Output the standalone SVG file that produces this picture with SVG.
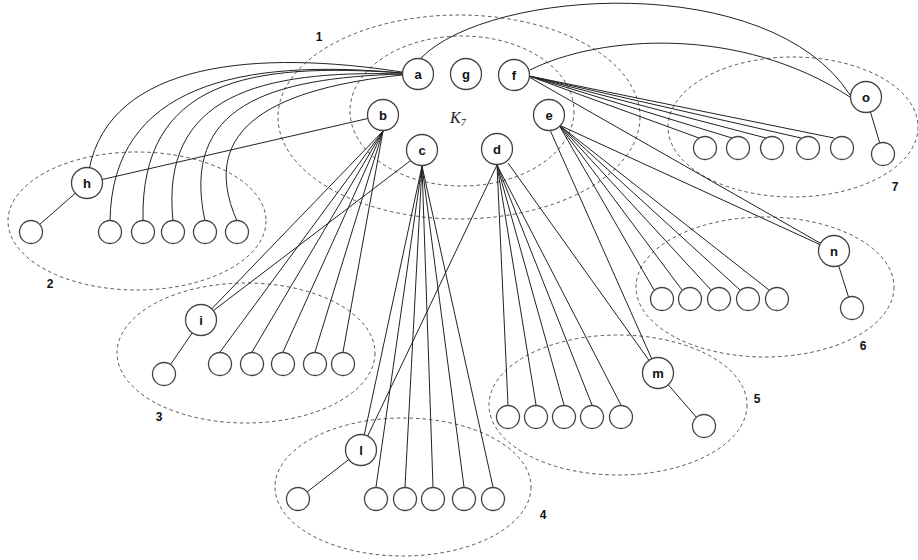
<svg xmlns="http://www.w3.org/2000/svg" width="918" height="560" viewBox="0 0 918 560">
<style>
.cl{fill:none;stroke:#555;stroke-width:1;stroke-dasharray:3.5 3}
.e{fill:none;stroke:#222;stroke-width:1}
.n circle{fill:#fff;stroke:#444;stroke-width:1.3}
.n text{font-family:"Liberation Sans",Arial,sans-serif;font-weight:bold;font-size:13px;text-anchor:middle;fill:#111}
.num{font-family:"Liberation Sans",Arial,sans-serif;font-weight:bold;font-size:12px;text-anchor:middle;fill:#111}
</style>
<rect width="918" height="560" fill="#fff"/>
<g id="clusters">
<ellipse class="cl" cx="459" cy="117" rx="181" ry="102"/>
<ellipse class="cl" cx="462" cy="111" rx="112" ry="75"/>
<ellipse class="cl" cx="137" cy="221" rx="129" ry="69"/>
<ellipse class="cl" cx="246" cy="353" rx="129" ry="70"/>
<ellipse class="cl" cx="403" cy="487" rx="128" ry="69"/>
<ellipse class="cl" cx="618" cy="405" rx="129" ry="70"/>
<ellipse class="cl" cx="765" cy="287" rx="129" ry="70"/>
<ellipse class="cl" cx="793" cy="127" rx="125" ry="70"/>
</g>
<g id="labels">
<text class="num" x="319" y="41">1</text>
<text class="num" x="50" y="288">2</text>
<text class="num" x="159" y="421">3</text>
<text class="num" x="543" y="519">4</text>
<text class="num" x="757" y="403">5</text>
<text class="num" x="863" y="350">6</text>
<text class="num" x="895" y="191">7</text>
<text x="450" y="123" font-family="'Liberation Serif','Times New Roman',serif" font-style="italic" font-size="16" fill="#222">K<tspan font-size="10" dy="3">7</tspan></text>
</g>
<g id="connectors">
<!-- a to cluster 2 -->
<path class="e" d="M402,72 C260,50 110,60 89,170"/>
<path class="e" d="M402,73 C240,58 112,85 110,221"/>
<path class="e" d="M402,73 C250,62 140,80 143,221"/>
<path class="e" d="M402,74 C260,70 160,95 173,221"/>
<path class="e" d="M402,74 C270,78 180,105 205,221"/>
<path class="e" d="M402,75 C280,88 195,125 237,221"/>
<!-- a to o, f to o -->
<path class="e" d="M421,58 C490,-12 770,-30 850,95"/>
<path class="e" d="M530,70 C600,35 740,25 850,97"/>
<!-- b -->
<line class="e" x1="383" y1="115" x2="87" y2="183"/>
<line class="e" x1="383" y1="131" x2="201" y2="320"/>
<line class="e" x1="383" y1="131" x2="220" y2="352"/>
<line class="e" x1="383" y1="131" x2="252" y2="352"/>
<line class="e" x1="383" y1="131" x2="283" y2="352"/>
<line class="e" x1="383" y1="131" x2="315" y2="352"/>
<line class="e" x1="383" y1="131" x2="343" y2="352"/>
<!-- c -->
<line class="e" x1="410" y1="161" x2="201" y2="320"/>
<line class="e" x1="422" y1="166" x2="361" y2="450"/>
<line class="e" x1="422" y1="166" x2="376" y2="487"/>
<line class="e" x1="422" y1="166" x2="405" y2="487"/>
<line class="e" x1="422" y1="166" x2="433" y2="487"/>
<line class="e" x1="422" y1="166" x2="464" y2="487"/>
<line class="e" x1="422" y1="166" x2="493" y2="487"/>
<!-- d -->
<line class="e" x1="497" y1="165" x2="361" y2="450"/>
<line class="e" x1="508" y1="163" x2="658" y2="373"/>
<line class="e" x1="497" y1="165" x2="508" y2="405"/>
<line class="e" x1="497" y1="165" x2="536" y2="405"/>
<line class="e" x1="497" y1="165" x2="564" y2="405"/>
<line class="e" x1="497" y1="165" x2="592" y2="405"/>
<line class="e" x1="497" y1="165" x2="621" y2="405"/>
<!-- e -->
<line class="e" x1="550" y1="130" x2="658" y2="373"/>
<line class="e" x1="559" y1="125" x2="834" y2="251"/>
<line class="e" x1="559" y1="125" x2="654" y2="290"/>
<line class="e" x1="559" y1="125" x2="682" y2="290"/>
<line class="e" x1="559" y1="125" x2="711" y2="290"/>
<line class="e" x1="559" y1="125" x2="740" y2="290"/>
<line class="e" x1="559" y1="125" x2="769" y2="290"/>
<!-- f -->
<line class="e" x1="529" y1="77" x2="834" y2="251"/>
<line class="e" x1="529" y1="76" x2="699" y2="138"/>
<line class="e" x1="529" y1="76" x2="732" y2="138"/>
<line class="e" x1="529" y1="76" x2="766" y2="138"/>
<line class="e" x1="529" y1="76" x2="801" y2="138"/>
<line class="e" x1="529" y1="76" x2="834" y2="138"/>
<!-- hub to own leaf -->
<line class="e" x1="87" y1="183" x2="31" y2="232"/>
<line class="e" x1="201" y1="320" x2="164" y2="374"/>
<line class="e" x1="361" y1="450" x2="298" y2="499"/>
<line class="e" x1="658" y1="373" x2="704" y2="426"/>
<line class="e" x1="834" y1="251" x2="852" y2="308"/>
<line class="e" x1="866" y1="97" x2="883" y2="154"/>
</g>
<g id="nodes">
<g id="a" class="n"><circle cx="418" cy="74" r="15.5"/><text x="418" y="79">a</text></g>
<g id="g" class="n"><circle cx="466" cy="74" r="15.5"/><text x="466" y="79">g</text></g>
<g id="f" class="n"><circle cx="514" cy="75" r="15.5"/><text x="514" y="80">f</text></g>
<g id="b" class="n"><circle cx="383" cy="115" r="15.5"/><text x="383" y="120">b</text></g>
<g id="e" class="n"><circle cx="549" cy="115" r="15.5"/><text x="549" y="120">e</text></g>
<g id="c" class="n"><circle cx="422" cy="150" r="15.5"/><text x="422" y="155">c</text></g>
<g id="d" class="n"><circle cx="497" cy="149" r="15.5"/><text x="497" y="154">d</text></g>
<g id="h" class="n"><circle cx="87" cy="183" r="15.5"/><text x="87" y="188">h</text></g>
<g id="i" class="n"><circle cx="201" cy="320" r="15.5"/><text x="201" y="325">i</text></g>
<g id="l" class="n"><circle cx="361" cy="450" r="15.5"/><text x="361" y="455">l</text></g>
<g id="m" class="n"><circle cx="658" cy="373" r="15.5"/><text x="658" y="378">m</text></g>
<g id="n" class="n"><circle cx="834" cy="251" r="15.5"/><text x="834" y="256">n</text></g>
<g id="o" class="n"><circle cx="866" cy="97" r="15.5"/><text x="866" y="102">o</text></g>
<g id="h0" class="n"><circle cx="31" cy="232" r="11.5"/></g>
<g id="h1" class="n"><circle cx="110" cy="232" r="11.5"/></g>
<g id="h2" class="n"><circle cx="143" cy="232" r="11.5"/></g>
<g id="h3" class="n"><circle cx="173" cy="232" r="11.5"/></g>
<g id="h4" class="n"><circle cx="205" cy="232" r="11.5"/></g>
<g id="h5" class="n"><circle cx="237" cy="232" r="11.5"/></g>
<g id="i0" class="n"><circle cx="164" cy="374" r="11.5"/></g>
<g id="i1" class="n"><circle cx="220" cy="364" r="11.5"/></g>
<g id="i2" class="n"><circle cx="252" cy="364" r="11.5"/></g>
<g id="i3" class="n"><circle cx="283" cy="364" r="11.5"/></g>
<g id="i4" class="n"><circle cx="315" cy="364" r="11.5"/></g>
<g id="i5" class="n"><circle cx="343" cy="364" r="11.5"/></g>
<g id="l0" class="n"><circle cx="298" cy="499" r="11.5"/></g>
<g id="l1" class="n"><circle cx="376" cy="499" r="11.5"/></g>
<g id="l2" class="n"><circle cx="405" cy="499" r="11.5"/></g>
<g id="l3" class="n"><circle cx="433" cy="499" r="11.5"/></g>
<g id="l4" class="n"><circle cx="464" cy="499" r="11.5"/></g>
<g id="l5" class="n"><circle cx="493" cy="499" r="11.5"/></g>
<g id="m0" class="n"><circle cx="704" cy="426" r="11.5"/></g>
<g id="m1" class="n"><circle cx="508" cy="417" r="11.5"/></g>
<g id="m2" class="n"><circle cx="536" cy="417" r="11.5"/></g>
<g id="m3" class="n"><circle cx="564" cy="417" r="11.5"/></g>
<g id="m4" class="n"><circle cx="592" cy="417" r="11.5"/></g>
<g id="m5" class="n"><circle cx="621" cy="417" r="11.5"/></g>
<g id="n0" class="n"><circle cx="852" cy="308" r="11.5"/></g>
<g id="n1" class="n"><circle cx="662" cy="299" r="11.5"/></g>
<g id="n2" class="n"><circle cx="690" cy="299" r="11.5"/></g>
<g id="n3" class="n"><circle cx="719" cy="299" r="11.5"/></g>
<g id="n4" class="n"><circle cx="748" cy="299" r="11.5"/></g>
<g id="n5" class="n"><circle cx="777" cy="299" r="11.5"/></g>
<g id="o0" class="n"><circle cx="883" cy="154" r="11.5"/></g>
<g id="o1" class="n"><circle cx="705" cy="148" r="11.5"/></g>
<g id="o2" class="n"><circle cx="738" cy="148" r="11.5"/></g>
<g id="o3" class="n"><circle cx="772" cy="148" r="11.5"/></g>
<g id="o4" class="n"><circle cx="808" cy="148" r="11.5"/></g>
<g id="o5" class="n"><circle cx="842" cy="148" r="11.5"/></g>
</g>
</svg>
